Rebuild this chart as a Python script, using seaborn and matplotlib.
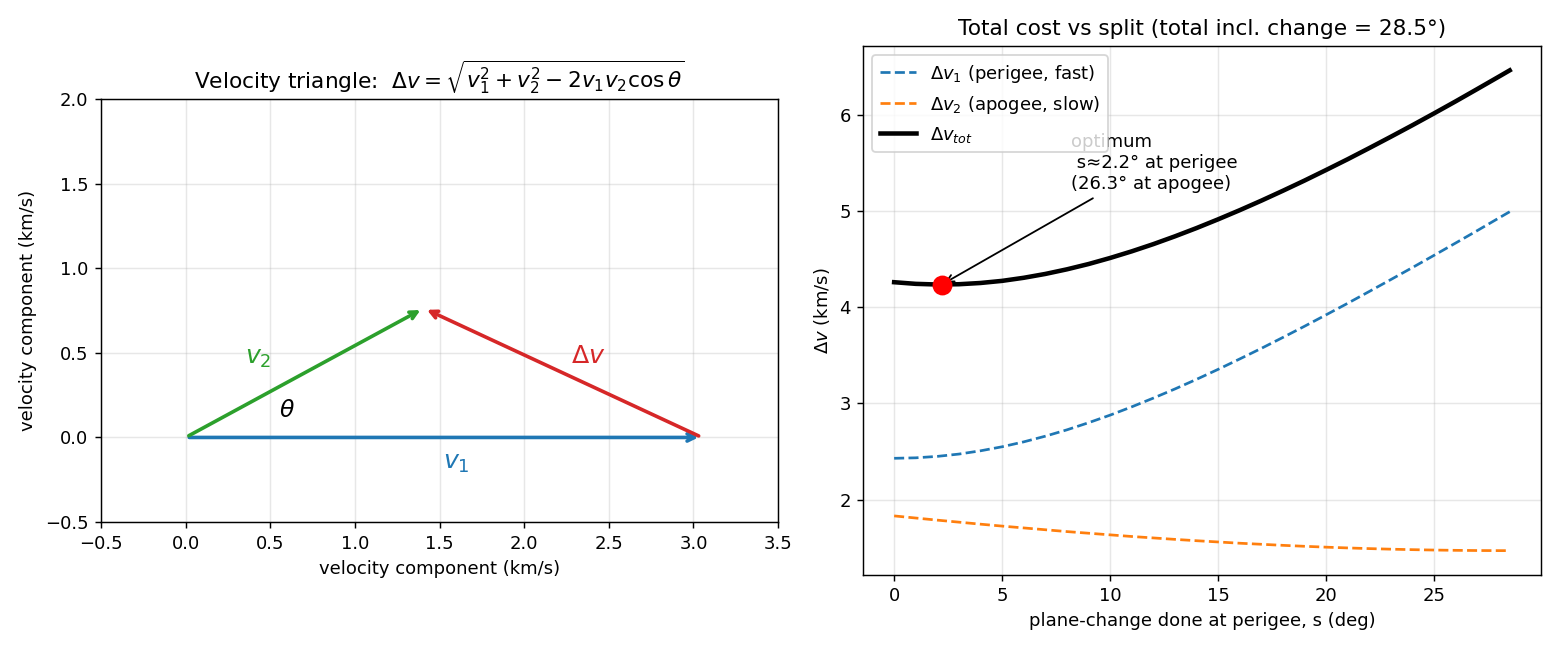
import numpy as np
import pandas as pd
import matplotlib
matplotlib.use("Agg")
import matplotlib.pyplot as plt
import seaborn as sns

# --- DATA ---
# velocity triangle (km/s)
v1_vec = [3.05, 0.0]
v2_vec = [1.406, 0.763]

# cost vs split
split_deg = [0, 1, 2, 3, 4, 5, 6, 7, 8, 9, 10, 11, 12, 13, 14, 15, 16, 17, 18,
             19, 20, 21, 22, 23, 24, 25, 26, 27, 28, 28.5]
dv_perigee = [2.430, 2.435, 2.450, 2.474, 2.508, 2.550, 2.601, 2.660, 2.726, 2.800,
              2.879, 2.965, 3.056, 3.151, 3.251, 3.355, 3.463, 3.573, 3.687, 3.803,
              3.922, 4.042, 4.165, 4.289, 4.414, 4.541, 4.669, 4.798, 4.929, 4.994]
dv_apogee = [1.831, 1.809, 1.787, 1.766, 1.745, 1.725, 1.706, 1.687, 1.668, 1.651,
             1.634, 1.617, 1.602, 1.587, 1.573, 1.560, 1.547, 1.536, 1.525, 1.515,
             1.506, 1.498, 1.491, 1.485, 1.480, 1.476, 1.473, 1.471, 1.470, 1.470]
dv_total = [4.261, 4.244, 4.237, 4.240, 4.253, 4.275, 4.307, 4.347, 4.395, 4.450,
            4.513, 4.582, 4.657, 4.738, 4.824, 4.915, 5.010, 5.109, 5.212, 5.318,
            5.428, 5.540, 5.656, 5.774, 5.894, 6.017, 6.142, 6.270, 6.399, 6.464]
total_change = 28.5
opt_s = 2.2
opt_dv = 4.236

df = pd.DataFrame({"s": split_deg, "dv1": dv_perigee, "dv2": dv_apogee, "tot": dv_total})

fig, (ax1, ax2) = plt.subplots(1, 2, figsize=(12, 5), dpi=130)

# --- LEFT: velocity triangle ---
origin = (0.0, 0.0)
ax1.annotate("", xy=tuple(v1_vec), xytext=origin,
             arrowprops=dict(arrowstyle="->", color="tab:blue", lw=2))
ax1.annotate("", xy=tuple(v2_vec), xytext=origin,
             arrowprops=dict(arrowstyle="->", color="tab:green", lw=2))
ax1.annotate("", xy=tuple(v2_vec), xytext=tuple(v1_vec),
             arrowprops=dict(arrowstyle="->", color="tab:red", lw=2))
ax1.text(1.6, -0.15, r"$v_1$", color="tab:blue", fontsize=14, ha="center", va="center")
ax1.text(0.43, 0.47, r"$v_2$", color="tab:green", fontsize=14, ha="center", va="center")
ax1.text(2.38, 0.48, r"$\Delta v$", color="tab:red", fontsize=14, ha="center", va="center")
ax1.text(0.6, 0.16, r"$\theta$", color="black", fontsize=13, ha="center", va="center")
ax1.set_xlim(-0.5, 3.5)
ax1.set_ylim(-0.5, 2.0)
ax1.set_aspect("equal")
ax1.grid(True, alpha=0.3)
ax1.set_xlabel("velocity component (km/s)")
ax1.set_ylabel("velocity component (km/s)")
ax1.set_title(r"Velocity triangle:  $\Delta v=\sqrt{v_1^2+v_2^2-2v_1v_2\cos\theta}$")

# --- RIGHT: total cost vs split ---
sns.lineplot(data=df, x="s", y="dv1", ax=ax2, color="tab:blue", linestyle="--",
             label=r"$\Delta v_1$ (perigee, fast)")
sns.lineplot(data=df, x="s", y="dv2", ax=ax2, color="tab:orange", linestyle="--",
             label=r"$\Delta v_2$ (apogee, slow)")
sns.lineplot(data=df, x="s", y="tot", ax=ax2, color="black", lw=2.5,
             label=r"$\Delta v_{tot}$")
ax2.plot([opt_s], [opt_dv], "o", color="red", markersize=10, zorder=5)
ax2.annotate(f"optimum\n s\u2248{opt_s:.1f}\u00b0 at perigee\n({total_change - opt_s:.1f}\u00b0 at apogee)",
             xy=(opt_s, opt_dv), xytext=(opt_s + 6, 5.5), ha="left", va="center",
             arrowprops=dict(arrowstyle="->", color="black", lw=1))
ax2.grid(True, alpha=0.3)
ax2.legend(loc="upper left")
ax2.set_xlabel("plane-change done at perigee, s (deg)")
ax2.set_ylabel(r"$\Delta v$ (km/s)")
ax2.set_title(f"Total cost vs split (total incl. change = {total_change}\u00b0)")

plt.tight_layout()
plt.savefig("out.png")
